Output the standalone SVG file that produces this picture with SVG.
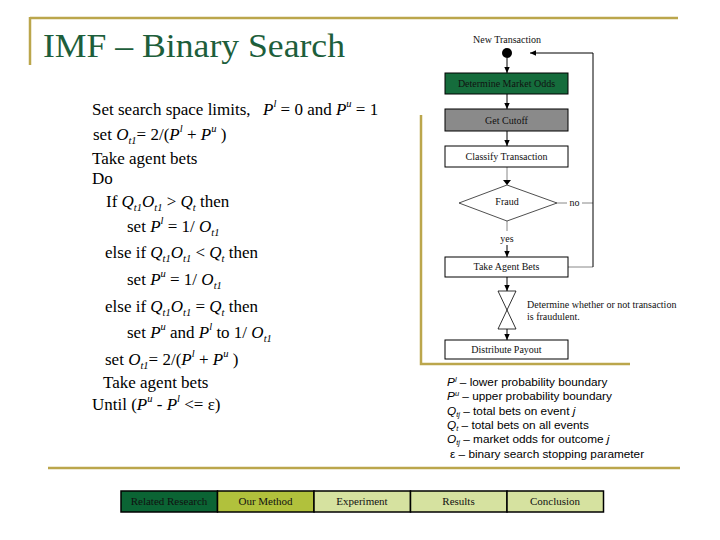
<svg xmlns="http://www.w3.org/2000/svg" width="720" height="540" viewBox="0 0 720 540">
<defs>
<marker id="ah" viewBox="0 0 10 10" refX="10" refY="5" markerWidth="6" markerHeight="6" orient="auto"><path d="M0,0.5 L10,5 L0,9.5 z" fill="#000"/></marker>
</defs>
<style>
.alg{font-family:"Liberation Serif","Times New Roman",serif;font-size:17px;fill:#000}
.i{font-style:italic}
.sm{font-size:10.5px}
.fc{font-family:"Liberation Serif","Times New Roman",serif;font-size:10px;fill:#111}
.mid{text-anchor:middle}
.lg{font-family:"Liberation Sans",Arial,sans-serif;font-size:11.8px;fill:#000}
.lgs{font-size:7.5px}
.tab{font-family:"Liberation Serif","Times New Roman",serif;font-size:11px;fill:#111;text-anchor:middle}
.gold{stroke:#bba64c;stroke-width:2.5;fill:none}
.box{stroke:#000;stroke-width:1}
.cn{stroke:#000;stroke-width:1;fill:none}
.cg{stroke:#888;stroke-width:1;fill:none}
.tb{stroke:#000;stroke-width:1.5}
</style>
<rect width="720" height="540" fill="#fff"/>
<g id="frame">
<path class="gold" d="M30,18 H678 M30,17 V65"/>
<path class="gold" d="M48,468 H680"/>
<path class="gold" d="M421,115 V364 H630"/>
</g>
<g id="title">
<text x="43" y="57" font-family="'Liberation Serif','Times New Roman',serif" font-size="34" fill="#1d5e3b" textLength="302" lengthAdjust="spacingAndGlyphs">IMF – Binary Search</text>
</g>
<g id="algorithm">
<text class="alg" x="92" y="115">Set search space limits,</text>
<text class="alg" x="263" y="115"><tspan class="i">P</tspan><tspan class="i sm" dy="-8">l</tspan><tspan dy="8"> = 0 and </tspan><tspan class="i">P</tspan><tspan class="i sm" dy="-8">u</tspan><tspan dy="8"> = 1</tspan></text>
<text class="alg" x="93" y="140">set <tspan class="i">O</tspan><tspan class="i sm" dy="4">t1</tspan><tspan dy="-4">= 2/(</tspan><tspan class="i">P</tspan><tspan class="i sm" dy="-8">l</tspan><tspan dy="8"> + </tspan><tspan class="i">P</tspan><tspan class="i sm" dy="-8">u</tspan><tspan dy="8"> )</tspan></text>
<text class="alg" x="92" y="164">Take agent bets</text>
<text class="alg" x="92" y="184">Do</text>
<text class="alg" x="106" y="207">If <tspan class="i">Q</tspan><tspan class="i sm" dy="4">t1</tspan><tspan class="i" dy="-4">O</tspan><tspan class="i sm" dy="4">t1</tspan><tspan dy="-4"> &gt; </tspan><tspan class="i">Q</tspan><tspan class="i sm" dy="4">t</tspan><tspan dy="-4">  then</tspan></text>
<text class="alg" x="127" y="232">set <tspan class="i">P</tspan><tspan class="i sm" dy="-8">l</tspan><tspan dy="8"> = 1/ </tspan><tspan class="i">O</tspan><tspan class="i sm" dy="4">t1</tspan></text>
<text class="alg" x="105" y="258">else if <tspan class="i">Q</tspan><tspan class="i sm" dy="4">t1</tspan><tspan class="i" dy="-4">O</tspan><tspan class="i sm" dy="4">t1</tspan><tspan dy="-4"> &lt; </tspan><tspan class="i">Q</tspan><tspan class="i sm" dy="4">t</tspan><tspan dy="-4">  then</tspan></text>
<text class="alg" x="127" y="285">set <tspan class="i">P</tspan><tspan class="i sm" dy="-8">u</tspan><tspan dy="8"> = 1/ </tspan><tspan class="i">O</tspan><tspan class="i sm" dy="4">t1</tspan></text>
<text class="alg" x="105" y="312">else if <tspan class="i">Q</tspan><tspan class="i sm" dy="4">t1</tspan><tspan class="i" dy="-4">O</tspan><tspan class="i sm" dy="4">t1</tspan><tspan dy="-4"> = </tspan><tspan class="i">Q</tspan><tspan class="i sm" dy="4">t</tspan><tspan dy="-4">  then</tspan></text>
<text class="alg" x="127" y="338">set <tspan class="i">P</tspan><tspan class="i sm" dy="-8">u</tspan><tspan dy="8">  and </tspan><tspan class="i">P</tspan><tspan class="i sm" dy="-8">l</tspan><tspan dy="8">  to 1/ </tspan><tspan class="i">O</tspan><tspan class="i sm" dy="4">t1</tspan></text>
<text class="alg" x="105" y="365">set <tspan class="i">O</tspan><tspan class="i sm" dy="4">t1</tspan><tspan dy="-4">= 2/(</tspan><tspan class="i">P</tspan><tspan class="i sm" dy="-8">l</tspan><tspan dy="8"> + </tspan><tspan class="i">P</tspan><tspan class="i sm" dy="-8">u</tspan><tspan dy="8"> )</tspan></text>
<text class="alg" x="103" y="388">Take agent bets</text>
<text class="alg" x="92" y="410">Until (<tspan class="i">P</tspan><tspan class="i sm" dy="-8">u</tspan><tspan dy="8"> - </tspan><tspan class="i">P</tspan><tspan class="i sm" dy="-8">l</tspan><tspan dy="8"> &lt;= ε)</tspan></text>
</g>
<g id="connectors">
<line class="cn" x1="507" y1="58" x2="507" y2="73" marker-end="url(#ah)"/>
<line class="cn" x1="507" y1="94" x2="507" y2="109" marker-end="url(#ah)"/>
<line class="cn" x1="507" y1="131" x2="507" y2="146" marker-end="url(#ah)"/>
<line class="cg" x1="507" y1="167" x2="507" y2="185"/>
<path d="M503,180 L511,180 L507,185 z" fill="#000"/>
<line class="cg" x1="507" y1="221" x2="507" y2="231"/>
<line class="cn" x1="507" y1="245" x2="507" y2="257" marker-end="url(#ah)"/>
<line class="cg" x1="557" y1="203" x2="567" y2="203"/>
<line class="cg" x1="582" y1="203" x2="593" y2="203"/>
<line class="cg" x1="568" y1="267" x2="593" y2="267"/>
<polyline class="cn" points="593,267 593,53 530,53" marker-end="url(#ah)"/>
<line class="cn" x1="507" y1="277" x2="507" y2="291" marker-end="url(#ah)"/>
<line class="cn" x1="507" y1="329" x2="507" y2="340" marker-end="url(#ah)"/>
</g>
<g id="n-new">
<text class="fc mid" x="507" y="43">New Transaction</text>
<circle cx="507" cy="53" r="5" fill="#000"/>
</g>
<g id="n-odds">
<rect class="box" x="445" y="73" width="123" height="21" fill="#156c3c"/>
<text class="fc mid" x="506.5" y="87" fill="#1a2f20">Determine Market Odds</text>
</g>
<g id="n-cutoff">
<rect class="box" x="445" y="109" width="123" height="22" fill="#8a8a8a"/>
<text class="fc mid" x="506.5" y="124" fill="#333">Get Cutoff</text>
</g>
<g id="n-classify">
<rect class="box" x="445" y="146" width="123" height="21" fill="#fff"/>
<text class="fc mid" x="506.5" y="160">Classify Transaction</text>
</g>
<g id="n-fraud">
<polygon points="459,203 507,185 557,203 507,221" fill="#fff" stroke="#222" stroke-width="0.8"/>
<text class="fc mid" x="507" y="205">Fraud</text>
<text class="fc mid" x="574.5" y="206">no</text>
<text class="fc mid" x="507" y="242">yes</text>
</g>
<g id="n-bets">
<rect class="box" x="445" y="257" width="123" height="20" fill="#fff"/>
<text class="fc mid" x="506.5" y="270">Take Agent Bets</text>
</g>
<g id="n-decide">
<path d="M498,291 H516 L498,329 H516 Z" fill="#fff" stroke="#000" stroke-width="0.8"/>
<text class="fc" x="527" y="308">Determine whether or not transaction</text>
<text class="fc" x="527" y="320">is fraudulent.</text>
</g>
<g id="n-payout">
<rect class="box" x="445" y="340" width="123" height="19" fill="#fff"/>
<text class="fc mid" x="506.5" y="353">Distribute Payout</text>
</g>
<g id="legend">
<text class="lg" x="447" y="386"><tspan class="i">P</tspan><tspan class="i lgs" dy="-4">l</tspan><tspan dy="4"> – lower probability boundary</tspan></text>
<text class="lg" x="447" y="400"><tspan class="i">P</tspan><tspan class="i lgs" dy="-4">u</tspan><tspan dy="4"> – upper probability boundary</tspan></text>
<text class="lg" x="447" y="415"><tspan class="i">Q</tspan><tspan class="i lgs" dy="2">tj</tspan><tspan dy="-2"> – total bets on event </tspan><tspan class="i">j</tspan></text>
<text class="lg" x="447" y="429"><tspan class="i">Q</tspan><tspan class="i lgs" dy="2">t</tspan><tspan dy="-2"> – total bets on all events</tspan></text>
<text class="lg" x="447" y="443"><tspan class="i">O</tspan><tspan class="i lgs" dy="2">tj</tspan><tspan dy="-2"> – market odds for outcome </tspan><tspan class="i">j</tspan></text>
<text class="lg" x="450" y="458">ε  – binary search stopping parameter</text>
</g>
<g id="tabs">
<rect class="tb" x="121" y="491" width="96.5" height="21" fill="#0b6434"/>
<text class="tab" x="169" y="505">Related Research</text>
<rect class="tb" x="217.5" y="491" width="96.5" height="21" fill="#b1c13c"/>
<text class="tab" x="265.5" y="505">Our Method</text>
<rect class="tb" x="314" y="491" width="96.5" height="21" fill="#d6e2a0"/>
<text class="tab" x="362" y="505">Experiment</text>
<rect class="tb" x="410.5" y="491" width="96.5" height="21" fill="#d6e2a0"/>
<text class="tab" x="458.5" y="505">Results</text>
<rect class="tb" x="507" y="491" width="96.5" height="21" fill="#d6e2a0"/>
<text class="tab" x="555" y="505">Conclusion</text>
</g>
</svg>
